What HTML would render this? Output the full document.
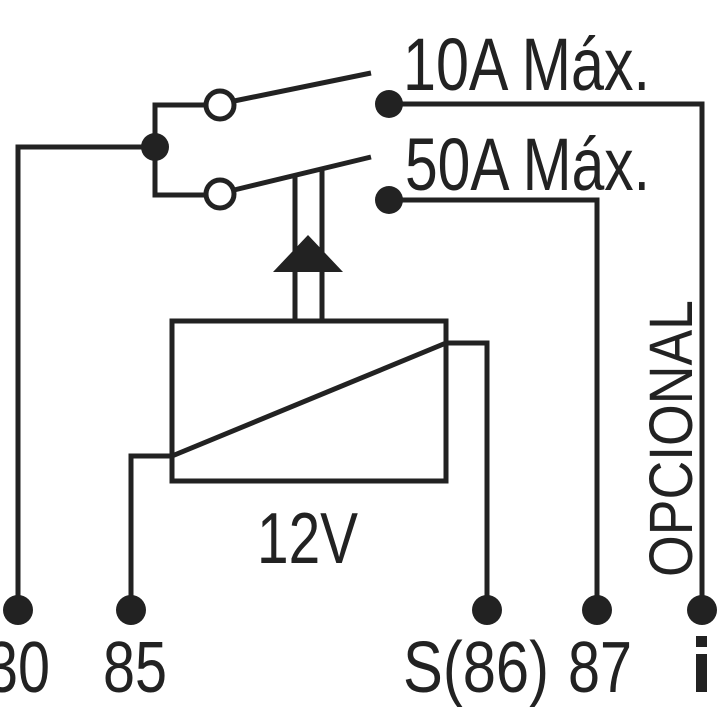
<!DOCTYPE html>
<html><head><meta charset="utf-8"><style>
html,body{margin:0;padding:0;background:#fff;}
svg{display:block;}
text{font-family:"Liberation Sans",sans-serif;fill:#222;}
</style></head><body>
<svg width="719" height="719" viewBox="0 0 719 719" xmlns="http://www.w3.org/2000/svg">
<g stroke="#222" stroke-width="5" fill="none">
<!-- left switch bus -->
<polyline points="205,105 155,105 155,195 205,195"/>
<polyline points="155,147 18,147 18,608"/>
<!-- blades -->
<line x1="234" y1="101" x2="371" y2="73"/>
<line x1="234" y1="190" x2="371" y2="157"/>
<!-- contacts lines -->
<polyline points="390,104 702,104 702,608"/>
<polyline points="390,200 597,200 597,608"/>
<!-- rods -->
<line x1="295" y1="176" x2="295" y2="321"/>
<line x1="322" y1="170" x2="322" y2="321"/>
<!-- coil box -->
<rect x="172" y="321" width="274" height="160"/>
<line x1="172" y1="456" x2="446" y2="343"/>
<polyline points="446,343 487,343 487,608"/>
<polyline points="172,456 131,456 131,608"/>
</g>
<!-- switch circles -->
<circle cx="220" cy="105" r="14" fill="#fff" stroke="#222" stroke-width="5"/>
<circle cx="220" cy="194" r="14" fill="#fff" stroke="#222" stroke-width="5"/>
<!-- dots -->
<g fill="#222">
<circle cx="155" cy="147" r="14"/>
<circle cx="389" cy="104" r="14"/>
<circle cx="389" cy="200" r="14"/>
<circle cx="18" cy="610" r="15"/>
<circle cx="131" cy="610" r="15"/>
<circle cx="487" cy="610" r="15"/>
<circle cx="597" cy="610" r="15"/>
<circle cx="702" cy="610" r="15"/>
<polygon points="308,235 273,272 343,272"/>
</g>
<!-- labels -->
<text x="403" y="90" font-size="74" textLength="247" lengthAdjust="spacingAndGlyphs">10A Máx.</text>
<text x="405" y="190" font-size="74" textLength="245" lengthAdjust="spacingAndGlyphs">50A Máx.</text>
<text x="257" y="563" font-size="72" textLength="101" lengthAdjust="spacingAndGlyphs">12V</text>
<text x="-14" y="692" font-size="72" textLength="64" lengthAdjust="spacingAndGlyphs">30</text>
<text x="103" y="692" font-size="72" textLength="64" lengthAdjust="spacingAndGlyphs">85</text>
<text x="403" y="692" font-size="72" textLength="146" lengthAdjust="spacingAndGlyphs">S(86)</text>
<text x="568" y="692" font-size="72" textLength="64" lengthAdjust="spacingAndGlyphs">87</text>
<rect x="696" y="636" width="11" height="11" fill="#222"/>
<rect x="696" y="654" width="11" height="38" fill="#222"/>
<text transform="translate(692,577) rotate(-90)" font-size="61" textLength="277" lengthAdjust="spacingAndGlyphs">OPCIONAL</text>
</svg>
</body></html>
